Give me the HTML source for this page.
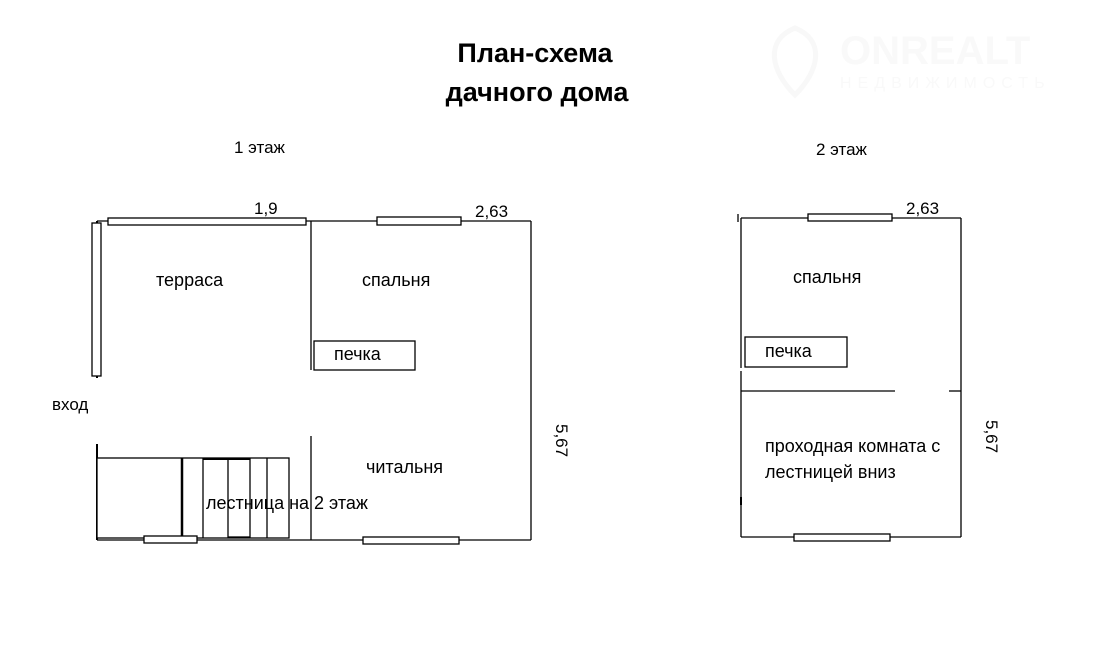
<!DOCTYPE html>
<html><head><meta charset="utf-8"><style>
body{margin:0;background:#fff;width:1100px;height:661px;overflow:hidden}
text{font-family:"Liberation Sans","DejaVu Sans",sans-serif;fill:#000}
</style></head><body>
<svg width="1100" height="661" viewBox="0 0 1100 661" xmlns="http://www.w3.org/2000/svg">
<g fill="none" stroke="#f8f8f8" stroke-width="5">
<path d="M795 95 C770 70 765 40 795 28 C825 40 820 70 795 95Z"/>
</g>
<text x="840" y="64" font-size="40" font-weight="bold" style="fill:#f9f9f9">ONREALT</text>
<text x="840" y="88" font-size="16" letter-spacing="6" style="fill:#f9f9f9">НЕДВИЖИМОСТЬ</text>

<text x="535" y="62" font-size="27" font-weight="bold" text-anchor="middle">План-схема</text>
<text x="537" y="101" font-size="27" font-weight="bold" text-anchor="middle">дачного дома</text>
<text x="234" y="153" font-size="17">1 этаж</text>
<text x="816" y="155" font-size="17">2 этаж</text>

<g stroke="#000" stroke-width="1.3" fill="#fff">
<line x1="97" y1="221" x2="531" y2="221"/>
<line x1="531" y1="221" x2="531" y2="540"/>
<line x1="97" y1="540" x2="531" y2="540"/>
<line x1="97" y1="221" x2="97" y2="378" stroke-width="2"/>
<line x1="97" y1="444" x2="97" y2="540" stroke-width="2"/>
<line x1="311" y1="221" x2="311" y2="370"/>
<line x1="311" y1="436" x2="311" y2="540"/>
<rect x="108" y="218" width="198" height="7"/>
<rect x="377" y="217" width="84" height="8"/>
<rect x="92" y="223" width="9" height="153"/>
<rect x="314" y="341" width="101" height="29"/>
<rect x="97" y="458" width="192" height="80"/>
<line x1="182" y1="458" x2="182" y2="538" stroke-width="2.5"/>
<line x1="203" y1="458" x2="203" y2="538"/>
<rect x="228" y="459" width="22" height="78"/>
<line x1="267" y1="458" x2="267" y2="538"/>
<line x1="203" y1="459" x2="250" y2="459" stroke-width="2"/>
<rect x="144" y="536" width="53" height="7"/>
<rect x="363" y="537" width="96" height="7"/>
<line x1="741" y1="218" x2="961" y2="218"/>
<line x1="961" y1="218" x2="961" y2="537"/>
<line x1="741" y1="537" x2="961" y2="537"/>
<line x1="741" y1="218" x2="741" y2="368"/>
<line x1="741" y1="371" x2="741" y2="537"/>
<line x1="738" y1="214" x2="738" y2="222"/>
<line x1="741" y1="391" x2="895" y2="391"/>
<line x1="949" y1="391" x2="961" y2="391"/>
<line x1="741" y1="497" x2="741" y2="505" stroke-width="2"/>
<rect x="808" y="214" width="84" height="7"/>
<rect x="794" y="534" width="96" height="7"/>
<rect x="745" y="337" width="102" height="30"/>
</g>

<text x="156" y="286" font-size="18">терраса</text>
<text x="362" y="286" font-size="18">спальня</text>
<text x="334" y="360" font-size="18">печка</text>
<text x="52" y="410" font-size="17">вход</text>
<text x="366" y="473" font-size="18">читальня</text>
<text x="206" y="509" font-size="18">лестница на 2 этаж</text>
<text x="254" y="214" font-size="17">1,9</text>
<text x="475" y="217" font-size="17">2,63</text>
<text transform="translate(556,424) rotate(90)" font-size="17">5,67</text>

<text x="793" y="283" font-size="18">спальня</text>
<text x="765" y="357" font-size="18">печка</text>
<text x="765" y="452" font-size="18">проходная комната с</text>
<text x="765" y="478" font-size="18">лестницей вниз</text>
<text x="906" y="214" font-size="17">2,63</text>
<text transform="translate(986,420) rotate(90)" font-size="17">5,67</text>
</svg>
</body></html>
